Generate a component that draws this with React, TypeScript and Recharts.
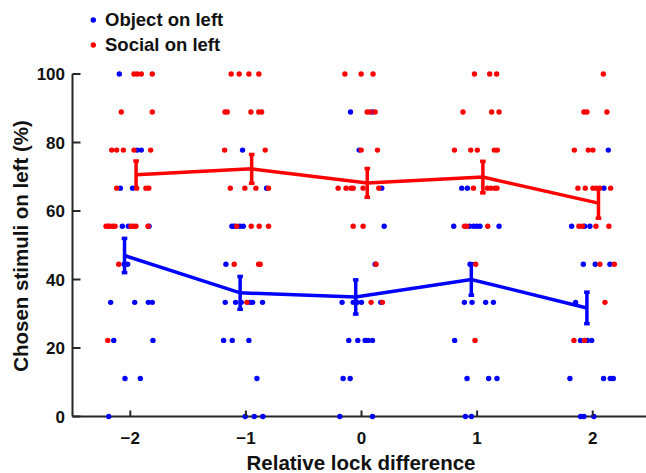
import React from 'react';
import { ComposedChart, Scatter, XAxis, YAxis, ErrorBar, Legend } from 'recharts';

const FONT = '"Liberation Sans", Arial, Helvetica, sans-serif';
const BLUE = '#0000ff';
const RED = '#ff0000';
const AXIS = '#262626';

const xTicks = [-2, -1, 0, 1, 2];
const yTicks = [0, 20, 40, 60, 80, 100];

// individual subjects: [relative lock difference (jittered), % chosen on left]
const objectDots: [number, number][] = [
  [-2.095, 100], [-1.94, 77.78], [-1.905, 77.78], [-2.086, 66.67], [-1.98, 66.67],
  [-2.069, 55.56], [-2.017, 55.56], [-1.838, 55.56], [-2.054, 44.44], [-2.023, 44.44],
  [-2.17, 33.33], [-1.962, 33.33], [-1.844, 33.33], [-1.81, 33.33], [-2.143, 22.22],
  [-1.804, 22.22], [-2.046, 11.11], [-1.913, 11.11], [-2.187, 0],
  [-1.029, 77.78], [-0.821, 66.67], [-1.121, 55.56], [-1.101, 55.56], [-1.052, 55.56],
  [-1.023, 55.56], [-1.173, 44.44], [-1.179, 33.33], [-1.089, 33.33], [-1.04, 33.33],
  [-0.965, 33.33], [-0.942, 33.33], [-0.856, 33.33], [-1.193, 22.22], [-1.118, 22.22],
  [-0.974, 22.22], [-0.905, 11.11], [-1.006, 0], [-0.928, 0], [-0.853, 0],
  [-0.095, 88.89], [0.095, 88.89], [-0.02, 77.78], [0.175, 66.67], [0.196, 55.56],
  [0.118, 44.44], [-0.168, 33.33], [-0.072, 33.33], [-0.038, 33.33], [0.0, 33.33],
  [0.167, 33.33], [-0.11, 22.22], [-0.032, 22.22], [0.031, 22.22], [0.057, 22.22],
  [0.095, 22.22], [-0.159, 11.11], [-0.098, 11.11], [-0.188, 0], [0.095, 0],
  [0.867, 66.67], [0.916, 66.67], [0.798, 55.56], [0.936, 55.56], [0.971, 55.56],
  [0.999, 55.56], [1.025, 55.56], [1.19, 55.56], [0.939, 44.44], [0.89, 33.33],
  [0.956, 33.33], [1.074, 33.33], [1.141, 33.33], [0.806, 22.22], [0.913, 11.11],
  [1.1, 11.11], [1.172, 11.11], [0.899, 0], [0.951, 0],
  [2.135, 77.78], [2.097, 66.67], [1.818, 55.56], [1.93, 55.56], [1.976, 55.56],
  [1.919, 44.44], [2.022, 44.44], [2.149, 44.44], [1.852, 33.33], [1.895, 22.22],
  [1.953, 22.22], [1.991, 22.22], [1.803, 11.11], [2.094, 11.11], [2.152, 11.11],
  [2.178, 11.11], [1.895, 0], [1.924, 0], [2.01, 0],
];

const socialDots: [number, number][] = [
  [-1.968, 100], [-1.94, 100], [-1.905, 100], [-1.81, 100], [-2.078, 88.89], [-1.81, 88.89],
  [-2.161, 77.78], [-2.118, 77.78], [-2.06, 77.78], [-1.968, 77.78], [-1.824, 77.78],
  [-2.118, 66.67], [-1.945, 66.67], [-1.865, 66.67], [-1.84, 66.67],
  [-2.21, 55.56], [-2.193, 55.56], [-2.176, 55.56], [-2.153, 55.56], [-2.132, 55.56],
  [-1.994, 55.56], [-1.974, 55.56], [-1.951, 55.56], [-1.847, 55.56], [-2.1, 44.44],
  [-2.195, 22.22],
  [-1.127, 100], [-1.058, 100], [-0.974, 100], [-0.888, 100], [-1.181, 88.89],
  [-1.161, 88.89], [-0.957, 88.89], [-0.888, 88.89], [-0.864, 88.89], [-1.184, 77.78],
  [-0.833, 77.78], [-1.135, 66.67], [-1.009, 66.67], [-0.914, 66.67], [-0.804, 66.67],
  [-1.08, 55.56], [-0.954, 55.56], [-0.885, 55.56], [-0.804, 55.56], [-1.101, 44.44],
  [-0.89, 44.44], [-0.876, 44.44], [-0.991, 33.33],
  [-0.144, 100], [-0.003, 100], [0.1, 100], [0.049, 88.89], [0.072, 88.89], [0.118, 88.89],
  [-0.003, 77.78], [0.138, 77.78], [-0.202, 66.67], [-0.133, 66.67], [-0.09, 66.67],
  [-0.072, 66.67], [0.014, 66.67], [0.15, 66.67], [-0.072, 55.56], [0.014, 55.56],
  [0.126, 44.44], [0.083, 33.33], [0.181, 33.33],
  [0.977, 100], [1.109, 100], [1.169, 100], [0.878, 88.89], [1.126, 88.89], [1.19, 88.89],
  [0.804, 77.78], [0.945, 77.78], [1.002, 77.78], [1.149, 77.78], [1.175, 77.78],
  [0.968, 66.67], [1.089, 66.67], [1.12, 66.67], [1.155, 66.67], [1.172, 66.67],
  [0.89, 55.56], [0.91, 55.56], [1.092, 55.56], [0.988, 44.44], [0.982, 22.22],
  [2.092, 100], [1.924, 88.89], [1.95, 88.89], [2.123, 88.89], [1.841, 77.78],
  [1.962, 77.78], [2.002, 77.78], [1.872, 66.67], [1.936, 66.67], [2.002, 66.67],
  [2.031, 66.67], [2.06, 66.67], [2.155, 66.67], [1.881, 55.56], [1.91, 55.56],
  [2.028, 55.56], [2.14, 55.56], [2.062, 44.44], [2.187, 44.44], [2.106, 33.33],
  [1.838, 22.22], [1.93, 22.22],
];

// group means and SEM
const objectMeanX = [-2.05, -1.05, -0.05, 0.95, 1.95];
const objectMean = [47.0, 36.1, 34.9, 40.0, 31.7];
const objectSem = [5.0, 4.8, 5.0, 4.6, 4.6];
const socialMeanX = [-1.95, -0.95, 0.05, 1.05, 2.05];
const socialMean = [70.6, 72.3, 68.2, 69.9, 62.3];
const socialSem = [4.0, 4.2, 4.2, 4.6, 4.4];

const toPts = (arr: [number, number][]) => arr.map(([x, y]) => ({ x, y }));
const objectPts = toPts(objectDots);
const socialPts = toPts(socialDots);
const objectMeans = objectMeanX.map((x, i) => ({ x, y: objectMean[i], err: objectSem[i] }));
const socialMeans = socialMeanX.map((x, i) => ({ x, y: socialMean[i], err: socialSem[i] }));

const dotShape = (color: string) => (props: any) =>
  <circle cx={props.cx} cy={props.cy} r={2.7} fill={color} />;
const noShape = () => <g />;

const YTick = (props: any) => {
  const { x, y, payload } = props;
  return (
    <g>
      <line x1={x} x2={x + 8} y1={y} y2={y} stroke={AXIS} strokeWidth={2} />
      <text x={x - 7.5} y={y} dy="0.36em" textAnchor="end" fontFamily={FONT}
        fontWeight="bold" fontSize={17} fill="#111">{payload.value}</text>
    </g>
  );
};

const XTick = (props: any) => {
  const { x, y, payload } = props;
  const v = payload.value as number;
  const label = v < 0 ? '\u2212' + Math.abs(v) : String(v);
  return (
    <g>
      <line x1={x} x2={x} y1={y} y2={y - 6} stroke={AXIS} strokeWidth={2} />
      <text x={x} y={y + 27} textAnchor="middle" fontFamily={FONT}
        fontWeight="bold" fontSize={17} fill="#111">{label}</text>
    </g>
  );
};

const LegendContent = (props: any) => {
  const items = (props.payload || []).filter((p: any) => p.type !== 'none');
  return (
    <div style={{ position: 'relative', width: 300, height: 60 }}>
      {items.map((p: any, i: number) => (
        <div key={i} style={{ position: 'absolute', left: 0, top: 20 + i * 25 - 12, height: 24,
          display: 'flex', alignItems: 'center', whiteSpace: 'nowrap' }}>
          <svg width={10} height={24} style={{ marginLeft: 88 }}>
            <circle cx={5.3} cy={12} r={2.7} fill={p.color} />
          </svg>
          <span style={{ marginLeft: 7, fontFamily: FONT, fontWeight: 'bold', fontSize: 18.5,
            color: '#111', lineHeight: '24px' }}>{p.value}</span>
        </div>
      ))}
    </div>
  );
};

export default function App() {
  return (
    <div style={{ position: 'absolute', left: 0, top: 0, width: 646, height: 473,
      overflow: 'hidden', background: '#fff' }}>
      <ComposedChart width={660} height={473}
        margin={{ top: 74, right: 9.5, bottom: 0, left: 0 }}>
        <XAxis type="number" dataKey="x" domain={[-2.5, 2.5]} ticks={xTicks}
          height={56.5} tickSize={0} tickMargin={0} tickLine={false}
          axisLine={{ stroke: AXIS, strokeWidth: 2 }} tick={<XTick />}
          label={{ content: () => (
            <text x={361} y={469.5} textAnchor="middle" fontFamily={FONT} fontWeight="bold"
              fontSize={20.5} fill="#111">Relative lock difference</text>) }} />
        <YAxis type="number" dataKey="y" domain={[0, 100]} ticks={yTicks}
          width={72.5} tickSize={0} tickMargin={0} tickLine={false}
          axisLine={{ stroke: AXIS, strokeWidth: 2 }} tick={<YTick />}
          label={{ content: () => (
            <text transform="translate(20.5,246) rotate(-90)" dy="0.36em" textAnchor="middle"
              fontFamily={FONT} fontWeight="bold" fontSize={20.5} fill="#111">
              Chosen stimuli on left (%)</text>) }} />
        <Legend layout="vertical" align="center" verticalAlign="middle"
          wrapperStyle={{ left: 0, top: 0, width: 300, height: 60 }}
          content={<LegendContent />} />
        <Scatter name="Object on left" data={objectPts} fill={BLUE}
          shape={dotShape(BLUE)} isAnimationActive={false} />
        <Scatter name="Social on left" data={socialPts} fill={RED}
          shape={dotShape(RED)} isAnimationActive={false} />
        <Scatter name="objMean" data={objectMeans} fill={BLUE} legendType="none"
          line={{ stroke: BLUE, strokeWidth: 3.5 }} shape={noShape} isAnimationActive={false}>
          <ErrorBar dataKey="err" direction="y" width={2.8} stroke={BLUE} strokeWidth={3.5}
            isAnimationActive={false} />
        </Scatter>
        <Scatter name="socMean" data={socialMeans} fill={RED} legendType="none"
          line={{ stroke: RED, strokeWidth: 3.5 }} shape={noShape} isAnimationActive={false}>
          <ErrorBar dataKey="err" direction="y" width={2.8} stroke={RED} strokeWidth={3.5}
            isAnimationActive={false} />
        </Scatter>
      </ComposedChart>
    </div>
  );
}
